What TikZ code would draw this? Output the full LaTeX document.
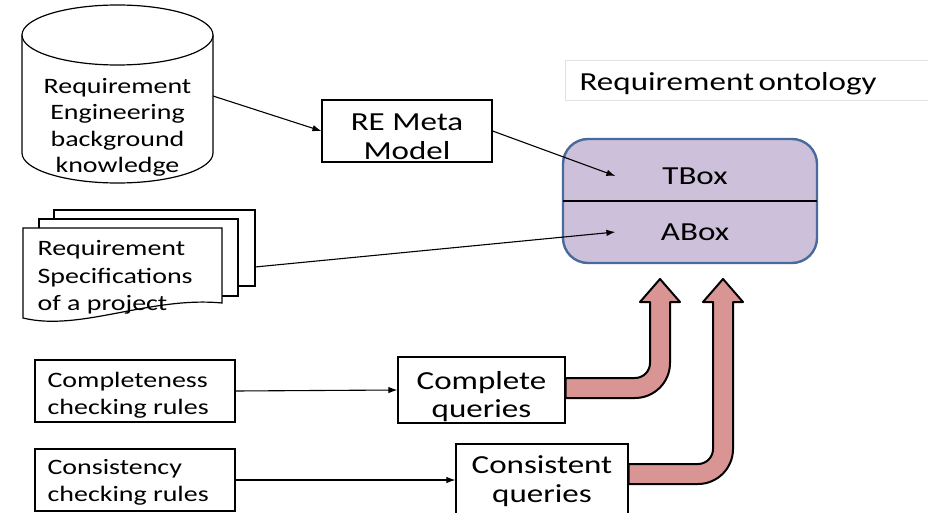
\documentclass[tikz,border=0pt]{standalone}
\usepackage{fontspec}
\setmainfont{Carlito}[FakeStretch=1.27]
\usetikzlibrary{arrows.meta}
\definecolor{ontofill}{HTML}{CCC0DA}
\definecolor{ontoedge}{HTML}{4A6A9B}
\definecolor{flowfill}{HTML}{D99594}
\definecolor{labeledge}{HTML}{E2E2E2}
\begin{document}
\begin{tikzpicture}[x=1pt,y=-1pt,line width=1.2pt,
  >={Latex[length=9pt,width=6.5pt]},
  conn/.style={->,line width=1.1pt},
  bigtxt/.style={font=\fontsize{26}{28.5}\selectfont},
  smalltxt/.style={font=\fontsize{22}{26.5}\selectfont},
  box/.style={draw,fill=white,align=center,inner sep=0pt},
  rulebox/.style={draw,fill=white,align=left,inner ysep=0pt,inner xsep=12pt,
    text width=176pt,minimum height=62pt,smalltxt},
  page/.style={draw,fill=white,line width=1.2pt},
  flow/.style={draw=black,fill=flowfill,line width=2pt,line join=round}]
\useasboundingbox (0,0) rectangle (928,513);

% knowledge base cylinder
\draw[page] (22,35) -- (22,153) arc[start angle=180,end angle=360,x radius=95.5,y radius=-30]
  -- (213,35);
\draw[page] (117.5,35) ellipse[x radius=95.5,y radius=30];
\node[smalltxt,align=center,font=\fontsize{22}{26.5}\selectfont] (kb) at (117.5,127.5) {Requirement\\Engineering\\background\\knowledge};
\coordinate (kbout) at (213,96);

% meta model
\node[box,bigtxt,minimum width=170pt,minimum height=62pt] (meta) at (407,131) {};
\node[bigtxt,align=center,font=\fontsize{26}{29}\selectfont] (metatxt) at (407,136.5) {RE Meta\\Model};

% ontology label
\node[draw=labeledge,line width=0.6pt,anchor=west,minimum height=40pt,text width=350pt,
  inner xsep=14pt,align=left,bigtxt] (ontolabel) at (565,80) {};
\node[bigtxt,anchor=west,inner sep=0pt] (ontolabeltxt) at (579,83.5) {Requirement\hspace{-3pt} ontology};

% ontology store
\node[draw=ontoedge,fill=ontofill,line width=2.4pt,rounded corners=25pt,
  minimum width=254pt,minimum height=124pt] (onto) at (690,201) {};
\draw[line width=1.1pt] ([xshift=1.2pt]onto.west) -- ([xshift=-1.2pt]onto.east);
\node[bigtxt,minimum width=158pt] (tbox) at (695,176) {TBox};
\node[bigtxt,minimum width=158pt] (abox) at (695,232) {ABox};

% specification document stack
\draw[page] (54,210) rectangle (255,286);
\draw[page] (39,219) rectangle (238,296);
\draw[page] (23,228) -- (222,228) -- (222,303)
  .. controls (150,296) and (80,332) .. (23,318) -- cycle;
\node[smalltxt,anchor=north west,align=left,inner sep=0pt,font=\fontsize{22}{27.5}\selectfont] (specs) at (37,240)
  {Requirement\\Specifications\\of a project};
\coordinate (specsout) at (255,267);

% rule sets and generated queries
\node[rulebox] (complrules) at (135,391) {};
\node[smalltxt,anchor=west,align=left,inner sep=0pt,font=\fontsize{22}{27}\selectfont] (compltxt) at (47,395) {Completeness\\checking rules};
\node[rulebox] (consrules) at (135,480) {};
\node[smalltxt,anchor=west,align=left,inner sep=0pt,font=\fontsize{22}{27}\selectfont] (constxt) at (47,482) {Consistency\\checking rules};
\node[box,bigtxt,minimum width=167pt,minimum height=66pt] (complq) at (481.5,390) {};
\node[bigtxt,align=center] (complqtxt) at (481.5,396.5) {Complete\\queries};
\node[box,bigtxt,minimum width=172pt,minimum height=72pt] (consq) at (542,480) {};
\node[bigtxt,align=center,font=\fontsize{26}{29}\selectfont] (consqtxt) at (542,481) {Consistent\\queries};

% connectors
\draw[conn] (kbout) -- (meta.west);
\draw[conn] (meta.east) -- (tbox.west);
\draw[conn] (specsout) -- (abox.west);
\draw[conn] (complrules.east) -- (complq.west);
\draw[conn] (consrules.east) -- (consq.west);

% block arrows feeding the ontology
\draw[flow] (complq.east |- 0,378) -- (635,378)
  .. controls (643.3,378) and (650,371.3) .. (650,363)
  -- (650,302) -- (640,302) -- (660,279) -- (680,302) -- (670,302) -- (670,363)
  .. controls (670,382.3) and (654.3,398) .. (635,398)
  -- (complq.east |- 0,398) -- cycle;
\draw[flow] (consq.east |- 0,464) -- (698,464)
  .. controls (706.3,464) and (713,457.3) .. (713,449)
  -- (713,302) -- (703,302) -- (723,279) -- (743,302) -- (733,302) -- (733,449)
  .. controls (733,468.3) and (717.3,484) .. (698,484)
  -- (consq.east |- 0,484) -- cycle;
\end{tikzpicture}
\end{document}
